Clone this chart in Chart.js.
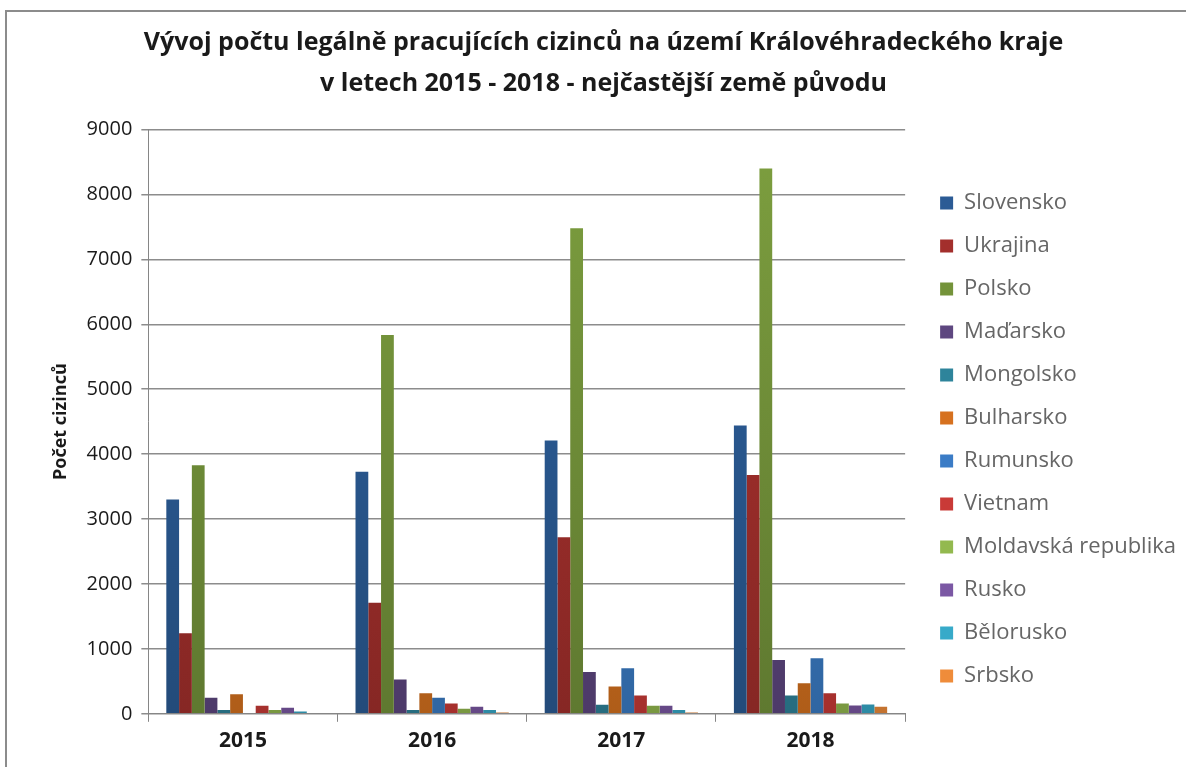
<!DOCTYPE html>
<html>
<head>
<meta charset="utf-8">
<script src="https://cdn.jsdelivr.net/npm/chart.js@4.4.1/dist/chart.umd.min.js"></script>
<style>
  html, body { margin: 0; padding: 0; background: #fff; overflow: hidden; }
  #frame { position: absolute; left: 5px; top: 10px; width: 1200px; height: 780px; border-left: 2px solid #8c8c8c; border-top: 2px solid #8c8c8c; }
  #wrap { position: absolute; left: 0; top: 0; width: 1179px; height: 755px; }
</style>
</head>
<body>
<div id="frame"><div id="wrap"><canvas id="c"></canvas></div></div>
<script>
// Kategorie (roky)
const years = ["2015", "2016", "2017", "2018"];

// Země původu
const countries = ["Slovensko", "Ukrajina", "Polsko", "Maďarsko", "Mongolsko", "Bulharsko",
  "Rumunsko", "Vietnam", "Moldavská republika", "Rusko", "Bělorusko", "Srbsko"];

// Hodnoty po zemích (2015..2018)
const slovensko = [3300, 3730, 4210, 4440];
const ukrajina  = [1240, 1710, 2720, 3680];
const polsko    = [3830, 5835, 7480, 8400];
const madarsko  = [246, 527, 645, 829];
const mongolsko = [57, 57, 138, 281];
const bulharsko = [302, 318, 420, 471];
const rumunsko  = [0, 246, 702, 855];
const vietnam   = [123, 159, 281, 318];
const moldavsko = [57, 77, 123, 159];
const rusko     = [92, 108, 123, 128];
const belorusko = [36, 57, 57, 143];
const srbsko    = [0, 20, 20, 108];

const seriesValues = [slovensko, ukrajina, polsko, madarsko, mongolsko, bulharsko,
  rumunsko, vietnam, moldavsko, rusko, belorusko, srbsko];

// Barvy (Office 2007 paleta)
const colors = ["#2b5b95", "#a32f2c", "#74933a", "#5e4780", "#2e849b", "#d6711f",
  "#3b7cc6", "#c93a37", "#93b94f", "#7b58a4", "#37aac9", "#ef8c3a"];

const yTicks = [0, 1000, 2000, 3000, 4000, 5000, 6000, 7000, 8000, 9000];

function shade(hex, f) {
  const n = parseInt(hex.slice(1), 16);
  let r = (n >> 16) & 255, g = (n >> 8) & 255, b = n & 255;
  const m = v => Math.max(0, Math.min(255, Math.round(v * f)));
  return `rgb(${m(r)},${m(g)},${m(b)})`;
}

function barFill(base) {
  return (ctx) => {
    const chart = ctx.chart;
    const area = chart.chartArea;
    if (!area) return base;
    const g = chart.ctx.createLinearGradient(0, area.top, 0, area.bottom);
    g.addColorStop(0, shade(base, 1.08));
    g.addColorStop(1, shade(base, 0.82));
    return g;
  };
}

// mezera mezi grafem a legendou (legenda je o kus sirsi, polozky se posunou doprava)
const LEGEND_GAP = 14;
const legendGap = {
  id: "legendGap",
  beforeLayout(chart) {
    const lg = chart.legend;
    if (lg && !lg._gapPatched) {
      const fit = lg.fit.bind(lg);
      lg.fit = function () { fit(); this.width += LEGEND_GAP; };
      lg._gapPatched = true;
    }
  },
  afterLayout(chart) {
    if (chart.legend) chart.legend.left += LEGEND_GAP;
  }
};

const datasets = countries.map((name, i) => ({
  label: name,
  data: seriesValues[i],
  backgroundColor: barFill(colors[i]),
  borderWidth: 0,
  categoryPercentage: 0.81,
  barPercentage: 1.0
}));

const FONT = "'Open Sans', 'Liberation Sans', Arial, sans-serif";

new Chart(document.getElementById("c"), {
  type: "bar",
  data: { labels: years, datasets: datasets },
  plugins: [legendGap],
  options: {
    responsive: true,
    maintainAspectRatio: false,
    animation: false,
    layout: { padding: { left: 14, right: 0, top: 10, bottom: 6 } },
    plugins: {
      title: {
        display: true,
        text: ["Vývoj počtu legálně pracujících cizinců na území Královéhradeckého kraje",
               "v letech 2015 - 2018 - nejčastější země původu"],
        color: "#1a1a1a",
        font: { family: FONT, size: 25, weight: "bold", lineHeight: 1.65 },
        padding: { top: 0, bottom: 25 }
      },
      legend: {
        position: "right",
        align: "start",
        title: { display: true, text: "", font: { size: 12, lineHeight: 1 }, padding: { top: 137, bottom: 0 } },
        labels: {
          color: "#1a1a1a",
          font: { family: FONT, size: 22 },
          boxWidth: 13,
          boxHeight: 13,
          padding: 21,
          generateLabels: (chart) => chart.data.datasets.map((ds, i) => ({
            text: ds.label,
            fillStyle: colors[i],
            strokeStyle: colors[i],
            lineWidth: 0,
            datasetIndex: i
          }))
        }
      },
      tooltip: { enabled: false }
    },
    scales: {
      x: {
        grid: { offset: true, drawOnChartArea: false, color: "#868686", tickLength: 8 },
        border: { color: "#868686", width: 1 },
        ticks: { color: "#1a1a1a", font: { family: FONT, size: 21, weight: "bold" }, padding: 7 }
      },
      y: {
        min: 0,
        max: 9000,
        afterBuildTicks: (axis) => { axis.ticks = yTicks.map(v => ({ value: v })); },
        grid: { color: "#8c8c8c", lineWidth: 1.5, tickLength: 7 },
        border: { color: "#868686", width: 1 },
        ticks: { color: "#1a1a1a", font: { family: FONT, size: 20 }, padding: 9, callback: (v) => String(v) },
        title: {
          display: true,
          text: "Počet cizinců",
          color: "#1a1a1a",
          font: { family: FONT, size: 18, weight: "bold" },
          padding: { top: 29, bottom: 6 }
        }
      }
    }
  }
});
</script>
</body>
</html>
